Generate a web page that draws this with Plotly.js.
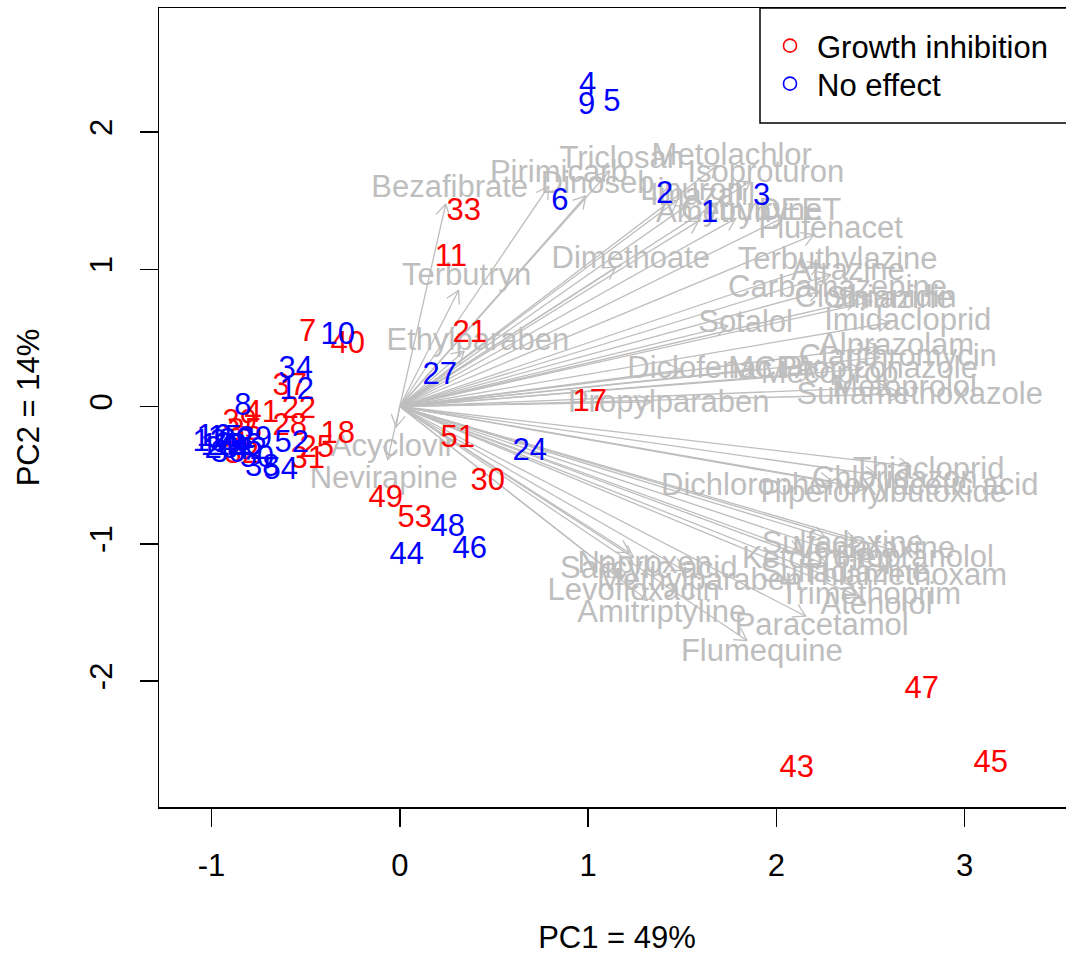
<!DOCTYPE html>
<html>
<head>
<meta charset="utf-8">
<script src="https://cdn.plot.ly/plotly-3.0.1.min.js"></script>
<style>
  html, body { margin: 0; padding: 0; overflow: hidden; background: #ffffff; }
  #biplot { width: 1080px; height: 957px; }
</style>
</head>
<body>
<div id="biplot"></div>
<script>
// ---- Sample scores on the first two principal components ----
// Growth inhibition group
const growthIds = [7, 11, 17, 18, 21, 22, 25, 28, 30, 31, 32, 33, 35, 37, 39, 40, 41, 43, 45, 47, 49, 51, 53];
const growthPC1 = [-0.489, 0.271, 1.009, -0.329, 0.372, -0.536, -0.441, -0.584, 0.467, -0.489, -0.839, 0.340,
                   -0.823, -0.584, -0.850, -0.276, -0.733, 2.108, 3.139, 2.772, -0.074, 0.308, 0.080];
const growthPC2 = [0.554, 1.100, 0.044, -0.189, 0.546, -0.007, -0.291, -0.131, -0.532, -0.372, -0.335, 1.435,
                   -0.168, 0.160, -0.102, 0.466, -0.036, -2.623, -2.587, -2.047, -0.656, -0.219, -0.801];

// No effect group
const noEffectIds = [1, 2, 3, 4, 5, 6, 8, 9, 10, 12, 13, 14, 15, 16, 19, 20, 23, 24, 26, 27, 29, 34, 36, 38,
                     42, 44, 46, 48, 50, 52, 54];
const noEffectPC1 = [1.646, 1.407, 1.922, 0.998, 1.126, 0.850, -0.834, 0.993, -0.329, -0.547, -1.009, -0.967,
                     -0.929, -0.988, -0.903, -0.946, -0.871, 0.690, -0.823, 0.212, -0.770, -0.552, -0.913, -0.730,
                     -0.797, 0.037, 0.372, 0.255, -0.759, -0.574, -0.632];
const noEffectPC2 = [1.421, 1.559, 1.545, 2.353, 2.230, 1.508, 0.015, 2.208, 0.532, 0.131, -0.248, -0.277,
                     -0.219, -0.211, -0.277, -0.299, -0.240, -0.313, -0.277, 0.240, -0.226, 0.284, -0.328, -0.430,
                     -0.306, -1.071, -1.027, -0.867, -0.364, -0.255, -0.452];

// ---- Compound loadings (arrow tips) ----
const compoundNames = [
  "Bezafibrate", "Pirimicarb", "Triclosan", "Dinoseb", "Metolachlor", "Isoproturon", "Imazalil", "Linuron",
  "Ametryn", "Cybutryne", "DEET", "Flufenacet", "Dimethoate", "Terbuthylazine", "Atrazine", "Carbamazepine",
  "Simazine", "Clothianidin", "Sotalol", "Imidacloprid", "Alprazolam", "Clarithromycin", "Propiconazole",
  "Diclofenac", "MCPA", "Mecoprop", "Metoprolol", "Sulfamethoxazole", "Propylparaben", "Ethylparaben",
  "Terbutryn", "Acyclovir", "Nevirapine", "Thiacloprid", "Chloridazon", "Dichlorophenoxyacetic acid",
  "Piperonylbutoxide", "Sulfadoxine", "Venlafaxine", "Ketoprofen", "Propranolol", "Sulfadiazine",
  "Thiamethoxam", "Trimethoprim", "Atenolol", "Paracetamol", "Flumequine", "Amitriptyline", "Levofloxacin",
  "Salicylic acid", "Naproxen", "Methylparaben"
];
const compoundPC1 = [
  0.244, 0.791, 1.115, 0.988, 1.687, 1.864, 1.530, 1.475,
  1.586, 1.785, 2.039, 2.200, 1.147, 2.235, 2.289, 2.233,
  2.509, 2.434, 1.744, 2.604, 2.544, 2.550, 2.454,
  1.498, 1.881, 2.188, 2.586, 2.666, 1.333, 0.342,
  0.312, -0.020, -0.064, 2.714, 2.534, 2.296,
  2.476, 2.261, 2.432, 2.130, 2.643, 2.273,
  2.591, 2.411, 2.444, 2.156, 1.844, 1.316, 1.167,
  1.242, 1.220, 1.510
];
const compoundPC2 = [
  1.475, 1.604, 1.716, 1.534, 1.757, 1.642, 1.469, 1.504,
  1.351, 1.371, 1.378, 1.253, 1.015, 1.036, 0.960, 0.839,
  0.766, 0.772, 0.588, 0.612, 0.436, 0.358, 0.273,
  0.267, 0.271, 0.237, 0.141, 0.091, 0.034, 0.403,
  0.845, -0.150, -0.386, -0.436, -0.499, -0.546,
  -0.597, -0.952, -0.990, -1.056, -1.056, -1.156,
  -1.183, -1.313, -1.385, -1.528, -1.705, -1.413, -1.252,
  -1.101, -1.066, -1.195
];

// Axis ticks
const pc1Ticks = [-1, 0, 1, 2, 3];
const pc1TickText = ["-1", "0", "1", "2", "3"];
const pc2Ticks = [-2, -1, 0, 1, 2];
const pc2TickText = ["-2", "-1", "0", "1", "2"];

// ---- Frame geometry ----
const W = 1080, H = 957;
const M = { l: 159, r: 5, t: 8, b: 150 };
const xRange = [-1.2789, 3.5864];
const yRange = [-2.918, 2.9035];
const plotW = W - M.l - M.r, plotH = H - M.t - M.b;
const pxPerX = plotW / (xRange[1] - xRange[0]);
const pxPerY = plotH / (yRange[1] - yRange[0]);

const FONT = "Liberation Sans, Arial, Helvetica, sans-serif";
const FS = 31;
const GREY = "#BEBEBE";
// text is centred on the glyph box rather than the font box
const textDrop = 3 / pxPerY;

// Arrow shafts and open heads (30 degree barbs) built in screen space, mapped back to data units
const headLen = 14, headAng = Math.PI / 6, labelGap = 18;
const arrowX = [], arrowY = [], labelX = [], labelY = [];
compoundNames.forEach((name, i) => {
  const tx = compoundPC1[i], ty = compoundPC2[i];
  const px = tx * pxPerX, py = ty * pxPerY;
  const th = Math.atan2(py, px);
  const b1 = [px - headLen * Math.cos(th - headAng), py - headLen * Math.sin(th - headAng)];
  const b2 = [px - headLen * Math.cos(th + headAng), py - headLen * Math.sin(th + headAng)];
  arrowX.push(0, tx, null, b1[0] / pxPerX, tx, b2[0] / pxPerX, null);
  arrowY.push(0, ty, null, b1[1] / pxPerY, ty, b2[1] / pxPerY, null);
  labelX.push((px + labelGap * Math.cos(th)) / pxPerX);
  labelY.push((py + labelGap * Math.sin(th)) / pxPerY - textDrop);
});

const drop = v => v.map(y => y - textDrop);

const traces = [
  { type: "scatter", mode: "lines", x: arrowX, y: arrowY,
    line: { color: GREY, width: 1.3 }, hoverinfo: "skip", showlegend: false },
  { type: "scatter", mode: "text", x: labelX, y: labelY, text: compoundNames,
    textposition: "middle center", textfont: { family: FONT, size: FS, color: GREY },
    hoverinfo: "skip", showlegend: false },
  { type: "scatter", mode: "text", x: growthPC1, y: drop(growthPC2), text: growthIds.map(String),
    textposition: "middle center", textfont: { family: FONT, size: FS, color: "#FF0000" },
    hoverinfo: "skip", showlegend: false },
  { type: "scatter", mode: "text", x: noEffectPC1, y: drop(noEffectPC2), text: noEffectIds.map(String),
    textposition: "middle center", textfont: { family: FONT, size: FS, color: "#0000FF" },
    hoverinfo: "skip", showlegend: false },
  // legend keys
  { type: "scatter", mode: "markers", x: [null], y: [null], name: "Growth inhibition", legend: "legend",
    marker: { symbol: "circle-open", size: 13, color: "#FF0000", line: { width: 1.6 } } },
  { type: "scatter", mode: "markers", x: [null], y: [null], name: "No effect", legend: "legend2",
    marker: { symbol: "circle-open", size: 13, color: "#0000FF", line: { width: 1.6 } } }
];

const axisCommon = {
  showgrid: false, zeroline: false, showline: true, mirror: true,
  linecolor: "#000000", linewidth: 1.5,
  ticks: "outside", ticklen: 18, tickwidth: 1.5, tickcolor: "#000000",
  tickfont: { family: FONT, size: FS, color: "#000000" },
  automargin: false, fixedrange: true
};

const legendCommon = {
  xanchor: "left", yanchor: "top", itemwidth: 44,
  bgcolor: "rgba(0,0,0,0)", borderwidth: 0,
  font: { family: FONT, size: FS, color: "#000000" }
};

const layout = {
  width: W, height: H,
  margin: M,
  paper_bgcolor: "#ffffff", plot_bgcolor: "#ffffff",
  font: { family: FONT, size: FS, color: "#000000" },
  xaxis: Object.assign({}, axisCommon, {
    range: xRange, tickmode: "array", tickvals: pc1Ticks, ticktext: pc1TickText,
    ticklabelstandoff: 12,
    title: { text: "PC1 = 49%", font: { family: FONT, size: FS }, standoff: 44 }
  }),
  yaxis: Object.assign({}, axisCommon, {
    range: yRange, tickmode: "array", tickvals: pc2Ticks, ticktext: pc2TickText, tickangle: -90,
    ticklabelstandoff: 15,
    title: { text: "PC2 = 14%", font: { family: FONT, size: FS }, standoff: 35 }
  }),
  showlegend: true,
  legend: Object.assign({}, legendCommon, { x: (763 - M.l) / plotW, y: 1 - 11 / plotH }),
  legend2: Object.assign({}, legendCommon, { x: (763 - M.l) / plotW, y: 1 - 49 / plotH }),
  shapes: [
    { type: "rect", xref: "paper", yref: "paper",
      x0: (760 - M.l) / plotW, x1: 1, y0: 1 - (123 - M.t) / plotH, y1: 1,
      line: { color: "#000000", width: 1.5 }, fillcolor: "#ffffff", layer: "below" }
  ]
};

Plotly.newPlot("biplot", traces, layout, { staticPlot: true, displayModeBar: false });
</script>
</body>
</html>
